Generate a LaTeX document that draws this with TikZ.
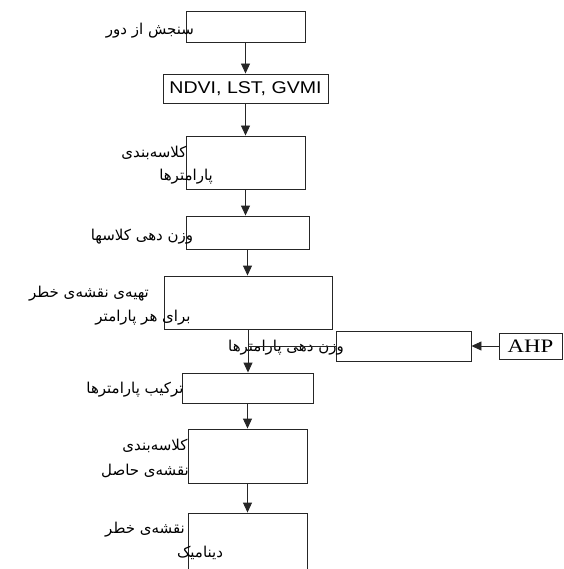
\documentclass[tikz,border=0pt]{standalone}
\usepackage{fontspec}
\usetikzlibrary{arrows.meta}
\setmainfont{Liberation Serif}
\newfontfamily\sansfont{Liberation Sans}
\newfontfamily\arabicfont[Script=Arabic]{DejaVu Sans}
\TeXXeTstate=1
\begin{document}
\begin{tikzpicture}[x=1pt,y=-1pt,
  box/.style={draw=black!85, line width=0.9pt, inner sep=0pt, anchor=center},
  fa/.style={font=\arabicfont\fontsize{15}{17}\selectfont, inner sep=0pt, anchor=center},
  arr/.style={draw=black!85, line width=0.9pt, -{Triangle[length=10pt,width=9pt]}},
  ln/.style={draw=black!85, line width=0.9pt}]
\useasboundingbox (0,0) rectangle (563,569);
\clip (0,0) rectangle (563,569);
% boxes
\node[box, minimum width=119, minimum height=31] (b1) at (245.5,26.5) {};
\node[box, minimum width=165, minimum height=29] (b2) at (245.5,88.5) {};
\node[box, minimum width=119, minimum height=53] (b3) at (245.5,162.5) {};
\node[box, minimum width=123, minimum height=33] (b4) at (247.5,232.5) {};
\node[box, minimum width=168, minimum height=53] (b5) at (248,302.5) {};
\node[box, minimum width=135, minimum height=30] (b6) at (403.5,346) {};
\node[box, minimum width=63, minimum height=26] (ahp) at (530.5,346) {};
\node[box, minimum width=131, minimum height=30] (b7) at (247.5,388) {};
\node[box, minimum width=119, minimum height=54] (b8) at (247.5,456) {};
\node[box, minimum width=119, minimum height=100] (b9) at (247.5,563) {};
% texts
\node[inner sep=0pt, font=\sansfont\fontsize{17}{19}\selectfont] (t2) at (245.5,88.5) {\scalebox{1.15}[1]{NDVI, LST, GVMI}};
\node[inner sep=0pt, font=\fontsize{19}{21}\selectfont] (tahp) at (530.5,346.5) {\scalebox{1.2}[1]{AHP}};
\node[fa] (t1) at (150,31) {\beginR سنجش از دور\endR};
\node[fa] (t3a) at (154,153) {\beginR کلاسه‌بندی\endR};
\node[fa] (t3b) at (186,177) {\beginR پارامترها\endR};
\node[fa] (t4) at (142,237) {\beginR وزن دهی کلاسها\endR};
\node[fa] (t5a) at (89,294) {\beginR تهیه‌ی نقشه‌ی خطر\endR};
\node[fa] (t5b) at (143,318) {\beginR برای هر پارامتر\endR};
\node[fa] (t6) at (286,348) {\beginR وزن دهی پارامترها\endR};
\node[fa] (t7) at (135,390) {\beginR ترکیب پارامترها\endR};
\node[fa] (t8a) at (155,446) {\beginR کلاسه‌بندی\endR};
\node[fa] (t8b) at (145,471) {\beginR نقشه‌ی حاصل\endR};
\node[fa] (t9a) at (145,530) {\beginR نقشه‌ی خطر\endR};
\node[fa] (t9b) at (200,553) {\beginR دینامیک\endR};
% connectors
\draw[arr] (b1.south) -- (b1.south |- b2.north);
\draw[arr] (b2.south) -- (b2.south |- b3.north);
\draw[arr] (b3.south) -- (b3.south |- b4.north);
\draw[arr] (b4.south) -- (b4.south |- b5.north);
\draw[arr] (b5.south) -- (b5.south |- b7.north);
\draw[ln] (b6.west) -- (b6.west -| b5.south);
\draw[arr] (ahp.west) -- (b6.east);
\draw[arr] (b7.south) -- (b7.south |- b8.north);
\draw[arr] (b8.south) -- (b8.south |- b9.north);
\end{tikzpicture}
\end{document}
